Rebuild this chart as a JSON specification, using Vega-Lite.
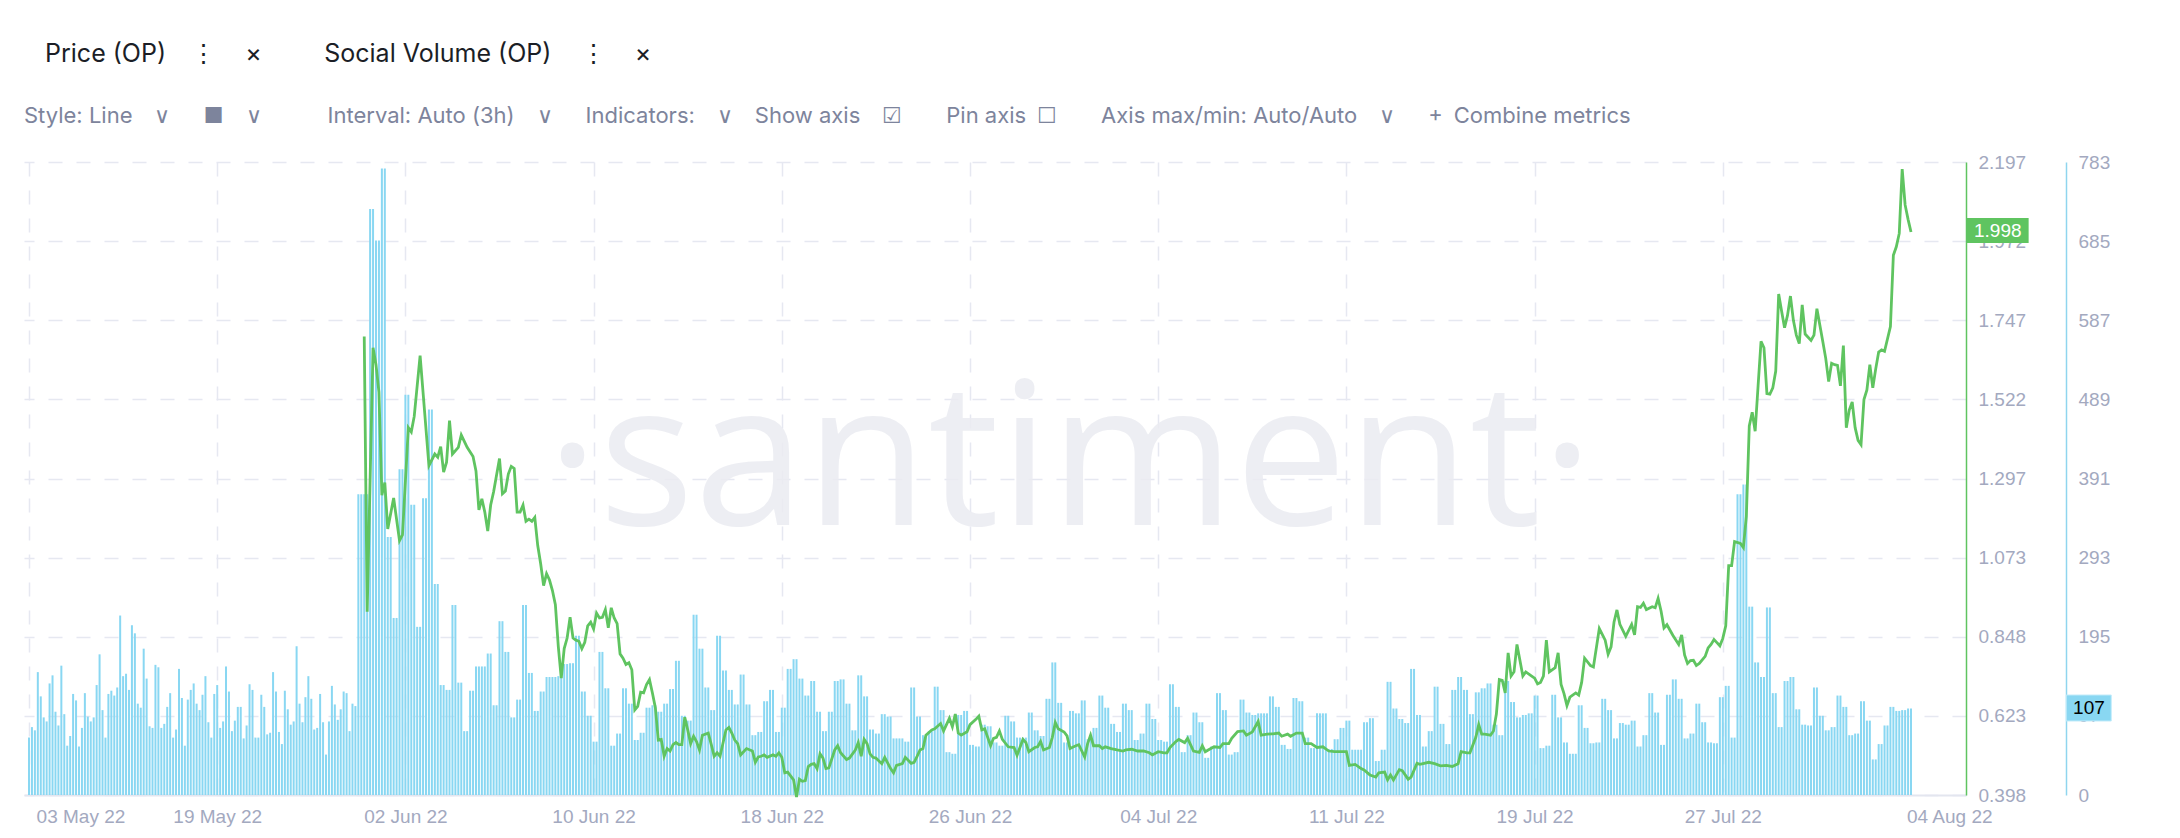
{
  "$schema": "https://vega.github.io/schema/vega-lite/v6.json",
  "width": 1942,
  "height": 633,
  "autosize": {"type": "none"},
  "padding": {"left": 24, "top": 162, "right": 214, "bottom": 43},
  "background": "#ffffff",
  "title": {
    "text": "\u200b\u2002\u2005\u200aPrice (OP)\u2003⋮\u2003\u2006×\u2003\u2003\u2002Social Volume (OP)\u2003\u2006⋮\u2003\u2006×",
    "subtitle": "Style: Line\u2003∨\u2003\u2002■\u2003∨\u2003\u2003\u2003Interval: Auto (3h)\u2003∨\u2003\u2002Indicators:\u2003∨\u2003Show axis\u2003☑\u2003\u2003Pin axis\u2002☐\u2003\u2003Axis max/min: Auto/Auto\u2003∨\u2003\u2002+\u2002Combine metrics",
    "anchor": "start",
    "frame": "group",
    "orient": "top",
    "font": "Inter",
    "fontSize": 25,
    "fontWeight": 400,
    "color": "#1b1e26",
    "subtitleFont": "Inter",
    "subtitleFontSize": 22,
    "subtitleColor": "#7d849c",
    "offset": 26,
    "subtitlePadding": 39
  },
  "config": {
    "view": {"stroke": null},
    "axis": {"labelFont": "Liberation Sans", "labelFontSize": 19, "labelColor": "#a3a9bf", "ticks": false, "labelFlush": false, "labelOverlap": false}
  },
  "datasets": {
    "vol": [
{"i":0,"v":71},{"i":1,"v":84},{"i":2,"v":80},{"i":3,"v":152},{"i":4,"v":122},{"i":5,"v":96},{"i":6,"v":91},{"i":7,"v":138},{"i":8,"v":148},{"i":9,"v":103},
{"i":10,"v":86},{"i":11,"v":160},{"i":12,"v":100},{"i":13,"v":61},{"i":14,"v":73},{"i":15,"v":125},{"i":16,"v":117},{"i":17,"v":60},{"i":18,"v":83},{"i":19,"v":126},
{"i":20,"v":97},{"i":21,"v":91},{"i":22,"v":96},{"i":23,"v":136},{"i":24,"v":174},{"i":25,"v":105},{"i":26,"v":71},{"i":27,"v":125},{"i":28,"v":129},{"i":29,"v":123},
{"i":30,"v":133},{"i":31,"v":222},{"i":32,"v":147},{"i":33,"v":150},{"i":34,"v":130},{"i":35,"v":210},{"i":36,"v":200},{"i":37,"v":113},{"i":38,"v":108},{"i":39,"v":181},
{"i":40,"v":144},{"i":41,"v":85},{"i":42,"v":83},{"i":43,"v":161},{"i":44,"v":158},{"i":45,"v":83},{"i":46,"v":88},{"i":47,"v":109},{"i":48,"v":126},{"i":49,"v":71},
{"i":50,"v":81},{"i":51,"v":156},{"i":52,"v":120},{"i":53,"v":61},{"i":54,"v":118},{"i":55,"v":130},{"i":56,"v":138},{"i":57,"v":113},{"i":58,"v":105},{"i":59,"v":124},
{"i":60,"v":147},{"i":61,"v":90},{"i":62,"v":71},{"i":63,"v":125},{"i":64,"v":136},{"i":65,"v":83},{"i":66,"v":91},{"i":67,"v":159},{"i":68,"v":128},{"i":69,"v":79},
{"i":70,"v":92},{"i":71,"v":109},{"i":72,"v":109},{"i":73,"v":70},{"i":74,"v":86},{"i":75,"v":137},{"i":76,"v":130},{"i":77,"v":71},{"i":78,"v":71},{"i":79,"v":124},
{"i":80,"v":109},{"i":81,"v":75},{"i":82,"v":77},{"i":83,"v":152},{"i":84,"v":128},{"i":85,"v":78},{"i":86,"v":63},{"i":87,"v":129},{"i":88,"v":106},{"i":89,"v":87},
{"i":90,"v":91},{"i":91,"v":184},{"i":92,"v":113},{"i":93,"v":90},{"i":94,"v":121},{"i":95,"v":147},{"i":96,"v":119},{"i":97,"v":81},{"i":98,"v":83},{"i":99,"v":125},
{"i":100,"v":90},{"i":101,"v":50},{"i":102,"v":91},{"i":103,"v":135},{"i":104,"v":112},{"i":105,"v":93},{"i":106,"v":106},{"i":107,"v":128},{"i":108,"v":126},{"i":109,"v":79},
{"i":110,"v":113},{"i":111,"v":110},{"i":112,"v":372},{"i":113,"v":372},{"i":114,"v":372},{"i":115,"v":372},{"i":116,"v":725},{"i":117,"v":725},{"i":118,"v":686},{"i":119,"v":686},
{"i":120,"v":775},{"i":121,"v":775},{"i":122,"v":319},{"i":123,"v":319},{"i":124,"v":219},{"i":125,"v":219},{"i":126,"v":403},{"i":127,"v":403},{"i":128,"v":495},{"i":129,"v":495},
{"i":130,"v":359},{"i":131,"v":359},{"i":132,"v":208},{"i":133,"v":208},{"i":134,"v":367},{"i":135,"v":367},{"i":136,"v":477},{"i":137,"v":477},{"i":138,"v":261},{"i":139,"v":261},
{"i":140,"v":136},{"i":141,"v":136},{"i":142,"v":130},{"i":143,"v":130},{"i":144,"v":235},{"i":145,"v":235},{"i":146,"v":139},{"i":147,"v":139},{"i":148,"v":79},{"i":149,"v":79},
{"i":150,"v":129},{"i":151,"v":129},{"i":152,"v":159},{"i":153,"v":159},{"i":154,"v":159},{"i":155,"v":159},{"i":156,"v":175},{"i":157,"v":175},{"i":158,"v":111},{"i":159,"v":111},
{"i":160,"v":215},{"i":161,"v":215},{"i":162,"v":177},{"i":163,"v":177},{"i":164,"v":96},{"i":165,"v":96},{"i":166,"v":118},{"i":167,"v":118},{"i":168,"v":235},{"i":169,"v":235},
{"i":170,"v":151},{"i":171,"v":151},{"i":172,"v":104},{"i":173,"v":104},{"i":174,"v":128},{"i":175,"v":128},{"i":176,"v":146},{"i":177,"v":146},{"i":178,"v":146},{"i":179,"v":146},
{"i":180,"v":147},{"i":181,"v":147},{"i":182,"v":162},{"i":183,"v":162},{"i":184,"v":163},{"i":185,"v":163},{"i":186,"v":197},{"i":187,"v":197},{"i":188,"v":128},{"i":189,"v":128},
{"i":190,"v":98},{"i":191,"v":98},{"i":192,"v":66},{"i":193,"v":66},{"i":194,"v":177},{"i":195,"v":177},{"i":196,"v":132},{"i":197,"v":132},{"i":198,"v":61},{"i":199,"v":61},
{"i":200,"v":76},{"i":201,"v":76},{"i":202,"v":132},{"i":203,"v":132},{"i":204,"v":113},{"i":205,"v":113},{"i":206,"v":68},{"i":207,"v":68},{"i":208,"v":77},{"i":209,"v":77},
{"i":210,"v":108},{"i":211,"v":108},{"i":212,"v":111},{"i":213,"v":111},{"i":214,"v":103},{"i":215,"v":103},{"i":216,"v":113},{"i":217,"v":113},{"i":218,"v":131},{"i":219,"v":131},
{"i":220,"v":166},{"i":221,"v":166},{"i":222,"v":98},{"i":223,"v":98},{"i":224,"v":92},{"i":225,"v":92},{"i":226,"v":223},{"i":227,"v":223},{"i":228,"v":181},{"i":229,"v":181},
{"i":230,"v":133},{"i":231,"v":133},{"i":232,"v":105},{"i":233,"v":105},{"i":234,"v":197},{"i":235,"v":197},{"i":236,"v":154},{"i":237,"v":154},{"i":238,"v":130},{"i":239,"v":130},
{"i":240,"v":112},{"i":241,"v":112},{"i":242,"v":149},{"i":243,"v":149},{"i":244,"v":112},{"i":245,"v":112},{"i":246,"v":74},{"i":247,"v":74},{"i":248,"v":78},{"i":249,"v":78},
{"i":250,"v":116},{"i":251,"v":116},{"i":252,"v":130},{"i":253,"v":130},{"i":254,"v":78},{"i":255,"v":78},{"i":256,"v":108},{"i":257,"v":108},{"i":258,"v":156},{"i":259,"v":156},
{"i":260,"v":168},{"i":261,"v":168},{"i":262,"v":144},{"i":263,"v":144},{"i":264,"v":123},{"i":265,"v":123},{"i":266,"v":141},{"i":267,"v":141},{"i":268,"v":103},{"i":269,"v":103},
{"i":270,"v":79},{"i":271,"v":79},{"i":272,"v":103},{"i":273,"v":103},{"i":274,"v":141},{"i":275,"v":141},{"i":276,"v":143},{"i":277,"v":143},{"i":278,"v":113},{"i":279,"v":113},
{"i":280,"v":80},{"i":281,"v":80},{"i":282,"v":148},{"i":283,"v":148},{"i":284,"v":122},{"i":285,"v":122},{"i":286,"v":81},{"i":287,"v":81},{"i":288,"v":76},{"i":289,"v":76},
{"i":290,"v":100},{"i":291,"v":100},{"i":292,"v":97},{"i":293,"v":97},{"i":294,"v":70},{"i":295,"v":70},{"i":296,"v":70},{"i":297,"v":70},{"i":298,"v":66},{"i":299,"v":66},
{"i":300,"v":133},{"i":301,"v":133},{"i":302,"v":97},{"i":303,"v":97},{"i":304,"v":74},{"i":305,"v":74},{"i":306,"v":79},{"i":307,"v":79},{"i":308,"v":134},{"i":309,"v":134},
{"i":310,"v":105},{"i":311,"v":105},{"i":312,"v":53},{"i":313,"v":53},{"i":314,"v":51},{"i":315,"v":51},{"i":316,"v":99},{"i":317,"v":99},{"i":318,"v":104},{"i":319,"v":104},
{"i":320,"v":62},{"i":321,"v":62},{"i":322,"v":60},{"i":323,"v":60},{"i":324,"v":87},{"i":325,"v":87},{"i":326,"v":85},{"i":327,"v":85},{"i":328,"v":65},{"i":329,"v":65},
{"i":330,"v":61},{"i":331,"v":61},{"i":332,"v":98},{"i":333,"v":98},{"i":334,"v":91},{"i":335,"v":91},{"i":336,"v":71},{"i":337,"v":71},{"i":338,"v":71},{"i":339,"v":71},
{"i":340,"v":102},{"i":341,"v":102},{"i":342,"v":80},{"i":343,"v":80},{"i":344,"v":73},{"i":345,"v":73},{"i":346,"v":119},{"i":347,"v":119},{"i":348,"v":164},{"i":349,"v":164},
{"i":350,"v":114},{"i":351,"v":114},{"i":352,"v":65},{"i":353,"v":65},{"i":354,"v":104},{"i":355,"v":104},{"i":356,"v":101},{"i":357,"v":101},{"i":358,"v":117},{"i":359,"v":117},
{"i":360,"v":69},{"i":361,"v":69},{"i":362,"v":83},{"i":363,"v":83},{"i":364,"v":123},{"i":365,"v":123},{"i":366,"v":108},{"i":367,"v":108},{"i":368,"v":88},{"i":369,"v":88},
{"i":370,"v":78},{"i":371,"v":78},{"i":372,"v":113},{"i":373,"v":113},{"i":374,"v":105},{"i":375,"v":105},{"i":376,"v":68},{"i":377,"v":68},{"i":378,"v":76},{"i":379,"v":76},
{"i":380,"v":113},{"i":381,"v":113},{"i":382,"v":94},{"i":383,"v":94},{"i":384,"v":68},{"i":385,"v":68},{"i":386,"v":66},{"i":387,"v":66},{"i":388,"v":137},{"i":389,"v":137},
{"i":390,"v":109},{"i":391,"v":109},{"i":392,"v":53},{"i":393,"v":53},{"i":394,"v":74},{"i":395,"v":74},{"i":396,"v":102},{"i":397,"v":102},{"i":398,"v":90},{"i":399,"v":90},
{"i":400,"v":46},{"i":401,"v":46},{"i":402,"v":60},{"i":403,"v":60},{"i":404,"v":126},{"i":405,"v":126},{"i":406,"v":105},{"i":407,"v":105},{"i":408,"v":50},{"i":409,"v":50},
{"i":410,"v":53},{"i":411,"v":53},{"i":412,"v":118},{"i":413,"v":118},{"i":414,"v":102},{"i":415,"v":102},{"i":416,"v":99},{"i":417,"v":99},{"i":418,"v":101},{"i":419,"v":101},
{"i":420,"v":101},{"i":421,"v":101},{"i":422,"v":122},{"i":423,"v":122},{"i":424,"v":109},{"i":425,"v":109},{"i":426,"v":62},{"i":427,"v":62},{"i":428,"v":57},{"i":429,"v":57},
{"i":430,"v":120},{"i":431,"v":120},{"i":432,"v":116},{"i":433,"v":116},{"i":434,"v":71},{"i":435,"v":71},{"i":436,"v":58},{"i":437,"v":58},{"i":438,"v":101},{"i":439,"v":101},
{"i":440,"v":101},{"i":441,"v":101},{"i":442,"v":57},{"i":443,"v":57},{"i":444,"v":69},{"i":445,"v":69},{"i":446,"v":83},{"i":447,"v":83},{"i":448,"v":92},{"i":449,"v":92},
{"i":450,"v":56},{"i":451,"v":56},{"i":452,"v":56},{"i":453,"v":56},{"i":454,"v":90},{"i":455,"v":90},{"i":456,"v":95},{"i":457,"v":95},{"i":458,"v":42},{"i":459,"v":42},
{"i":460,"v":56},{"i":461,"v":56},{"i":462,"v":140},{"i":463,"v":140},{"i":464,"v":107},{"i":465,"v":107},{"i":466,"v":94},{"i":467,"v":94},{"i":468,"v":89},{"i":469,"v":89},
{"i":470,"v":156},{"i":471,"v":156},{"i":472,"v":99},{"i":473,"v":99},{"i":474,"v":60},{"i":475,"v":60},{"i":476,"v":79},{"i":477,"v":79},{"i":478,"v":134},{"i":479,"v":134},
{"i":480,"v":88},{"i":481,"v":88},{"i":482,"v":63},{"i":483,"v":63},{"i":484,"v":130},{"i":485,"v":130},{"i":486,"v":146},{"i":487,"v":146},{"i":488,"v":130},{"i":489,"v":130},
{"i":490,"v":100},{"i":491,"v":100},{"i":492,"v":127},{"i":493,"v":127},{"i":494,"v":132},{"i":495,"v":132},{"i":496,"v":138},{"i":497,"v":138},{"i":498,"v":87},{"i":499,"v":87},
{"i":500,"v":74},{"i":501,"v":74},{"i":502,"v":141},{"i":503,"v":141},{"i":504,"v":115},{"i":505,"v":115},{"i":506,"v":96},{"i":507,"v":96},{"i":508,"v":99},{"i":509,"v":99},
{"i":510,"v":101},{"i":511,"v":101},{"i":512,"v":123},{"i":513,"v":123},{"i":514,"v":58},{"i":515,"v":58},{"i":516,"v":61},{"i":517,"v":61},{"i":518,"v":124},{"i":519,"v":124},
{"i":520,"v":96},{"i":521,"v":96},{"i":522,"v":65},{"i":523,"v":65},{"i":524,"v":51},{"i":525,"v":51},{"i":526,"v":51},{"i":527,"v":111},{"i":528,"v":111},{"i":529,"v":83},
{"i":530,"v":83},{"i":531,"v":64},{"i":532,"v":64},{"i":533,"v":65},{"i":534,"v":65},{"i":535,"v":119},{"i":536,"v":119},{"i":537,"v":105},{"i":538,"v":105},{"i":539,"v":70},
{"i":540,"v":70},{"i":541,"v":89},{"i":542,"v":89},{"i":543,"v":87},{"i":544,"v":87},{"i":545,"v":92},{"i":546,"v":92},{"i":547,"v":60},{"i":548,"v":60},{"i":549,"v":74},
{"i":550,"v":74},{"i":551,"v":126},{"i":552,"v":126},{"i":553,"v":102},{"i":554,"v":102},{"i":555,"v":62},{"i":556,"v":62},{"i":557,"v":124},{"i":558,"v":124},{"i":559,"v":143},
{"i":560,"v":143},{"i":561,"v":119},{"i":562,"v":119},{"i":563,"v":70},{"i":564,"v":70},{"i":565,"v":76},{"i":566,"v":76},{"i":567,"v":113},{"i":568,"v":113},{"i":569,"v":90},
{"i":570,"v":90},{"i":571,"v":65},{"i":572,"v":65},{"i":573,"v":64},{"i":574,"v":64},{"i":575,"v":121},{"i":576,"v":121},{"i":577,"v":135},{"i":578,"v":135},{"i":579,"v":71},
{"i":580,"v":71},{"i":581,"v":372},{"i":582,"v":372},{"i":583,"v":384},{"i":584,"v":384},{"i":585,"v":233},{"i":586,"v":233},{"i":587,"v":164},{"i":588,"v":164},{"i":589,"v":146},
{"i":590,"v":146},{"i":591,"v":232},{"i":592,"v":232},{"i":593,"v":126},{"i":594,"v":126},{"i":595,"v":84},{"i":596,"v":84},{"i":597,"v":141},{"i":598,"v":141},{"i":599,"v":146},
{"i":600,"v":146},{"i":601,"v":106},{"i":602,"v":106},{"i":603,"v":87},{"i":604,"v":87},{"i":605,"v":86},{"i":606,"v":86},{"i":607,"v":133},{"i":608,"v":133},{"i":609,"v":98},
{"i":610,"v":98},{"i":611,"v":80},{"i":612,"v":80},{"i":613,"v":84},{"i":614,"v":84},{"i":615,"v":123},{"i":616,"v":123},{"i":617,"v":109},{"i":618,"v":109},{"i":619,"v":74},
{"i":620,"v":74},{"i":621,"v":76},{"i":622,"v":76},{"i":623,"v":116},{"i":624,"v":116},{"i":625,"v":92},{"i":626,"v":92},{"i":627,"v":44},{"i":628,"v":44},{"i":629,"v":63},
{"i":630,"v":63},{"i":631,"v":86},{"i":632,"v":86},{"i":633,"v":109},{"i":634,"v":109},{"i":635,"v":104},{"i":636,"v":104},{"i":637,"v":105},{"i":638,"v":105},{"i":639,"v":107},
{"i":640,"v":107}
    ],
    "price": [
{"i":114,"p":1.701},{"i":115,"p":0.919},{"i":117,"p":1.669},{"i":118,"p":1.621},{"i":119,"p":1.543},{"i":120,"p":1.250},{"i":121,"p":1.286},{"i":122,"p":1.154},{"i":124,"p":1.242},{"i":126,"p":1.121},
{"i":127,"p":1.137},{"i":129,"p":1.442},{"i":130,"p":1.430},{"i":131,"p":1.474},{"i":133,"p":1.647},{"i":136,"p":1.334},{"i":138,"p":1.367},{"i":139,"p":1.358},{"i":140,"p":1.388},{"i":141,"p":1.316},
{"i":142,"p":1.344},{"i":143,"p":1.462},{"i":144,"p":1.367},{"i":146,"p":1.386},{"i":147,"p":1.421},{"i":149,"p":1.386},{"i":151,"p":1.360},{"i":152,"p":1.319},{"i":153,"p":1.208},{"i":154,"p":1.240},
{"i":155,"p":1.202},{"i":156,"p":1.148},{"i":157,"p":1.222},{"i":158,"p":1.260},{"i":160,"p":1.354},{"i":161,"p":1.254},{"i":162,"p":1.262},{"i":163,"p":1.310},{"i":164,"p":1.332},{"i":165,"p":1.326},
{"i":166,"p":1.202},{"i":167,"p":1.202},{"i":168,"p":1.222},{"i":169,"p":1.176},{"i":170,"p":1.182},{"i":171,"p":1.176},{"i":172,"p":1.187},{"i":173,"p":1.107},{"i":174,"p":1.055},{"i":175,"p":0.993},
{"i":176,"p":1.027},{"i":177,"p":1.009},{"i":178,"p":0.979},{"i":179,"p":0.939},{"i":180,"p":0.820},{"i":181,"p":0.730},{"i":182,"p":0.814},{"i":183,"p":0.844},{"i":184,"p":0.903},{"i":185,"p":0.844},
{"i":186,"p":0.838},{"i":187,"p":0.835},{"i":188,"p":0.814},{"i":189,"p":0.832},{"i":190,"p":0.879},{"i":191,"p":0.889},{"i":192,"p":0.870},{"i":193,"p":0.915},{"i":194,"p":0.901},{"i":195,"p":0.903},
{"i":196,"p":0.925},{"i":197,"p":0.873},{"i":198,"p":0.930},{"i":199,"p":0.901},{"i":200,"p":0.885},{"i":201,"p":0.799},{"i":202,"p":0.787},{"i":203,"p":0.769},{"i":204,"p":0.774},{"i":205,"p":0.754},
{"i":206,"p":0.640},{"i":207,"p":0.650},{"i":208,"p":0.690},{"i":209,"p":0.688},{"i":210,"p":0.712},{"i":211,"p":0.726},{"i":212,"p":0.688},{"i":213,"p":0.646},{"i":214,"p":0.554},{"i":215,"p":0.556},
{"i":216,"p":0.508},{"i":217,"p":0.530},{"i":218,"p":0.523},{"i":219,"p":0.541},{"i":220,"p":0.547},{"i":221,"p":0.541},{"i":222,"p":0.541},{"i":223,"p":0.619},{"i":224,"p":0.583},{"i":225,"p":0.544},
{"i":226,"p":0.565},{"i":227,"p":0.550},{"i":228,"p":0.526},{"i":229,"p":0.568},{"i":231,"p":0.574},{"i":232,"p":0.542},{"i":233,"p":0.508},{"i":234,"p":0.518},{"i":235,"p":0.508},{"i":237,"p":0.583},
{"i":238,"p":0.590},{"i":239,"p":0.574},{"i":240,"p":0.554},{"i":241,"p":0.544},{"i":242,"p":0.512},{"i":243,"p":0.521},{"i":244,"p":0.530},{"i":246,"p":0.523},{"i":247,"p":0.491},{"i":248,"p":0.506},
{"i":249,"p":0.508},{"i":250,"p":0.512},{"i":251,"p":0.505},{"i":253,"p":0.512},{"i":254,"p":0.508},{"i":255,"p":0.518},{"i":256,"p":0.505},{"i":257,"p":0.461},{"i":258,"p":0.463},{"i":260,"p":0.441},
{"i":261,"p":0.392},{"i":262,"p":0.443},{"i":263,"p":0.437},{"i":264,"p":0.439},{"i":265,"p":0.479},{"i":266,"p":0.485},{"i":267,"p":0.487},{"i":268,"p":0.473},{"i":269,"p":0.515},{"i":270,"p":0.503},
{"i":271,"p":0.473},{"i":272,"p":0.475},{"i":274,"p":0.526},{"i":275,"p":0.538},{"i":276,"p":0.518},{"i":278,"p":0.499},{"i":279,"p":0.503},{"i":281,"p":0.526},{"i":282,"p":0.547},{"i":283,"p":0.508},
{"i":284,"p":0.556},{"i":285,"p":0.544},{"i":286,"p":0.515},{"i":287,"p":0.505},{"i":288,"p":0.503},{"i":290,"p":0.487},{"i":291,"p":0.505},{"i":293,"p":0.473},{"i":294,"p":0.461},{"i":295,"p":0.482},
{"i":297,"p":0.487},{"i":298,"p":0.505},{"i":300,"p":0.488},{"i":301,"p":0.491},{"i":302,"p":0.508},{"i":303,"p":0.526},{"i":304,"p":0.530},{"i":305,"p":0.568},{"i":307,"p":0.583},{"i":308,"p":0.586},
{"i":310,"p":0.601},{"i":311,"p":0.580},{"i":313,"p":0.616},{"i":314,"p":0.592},{"i":315,"p":0.628},{"i":316,"p":0.574},{"i":317,"p":0.568},{"i":319,"p":0.578},{"i":320,"p":0.598},{"i":322,"p":0.613},
{"i":323,"p":0.622},{"i":324,"p":0.583},{"i":325,"p":0.586},{"i":327,"p":0.538},{"i":328,"p":0.559},{"i":329,"p":0.562},{"i":330,"p":0.580},{"i":331,"p":0.556},{"i":333,"p":0.535},{"i":335,"p":0.533},
{"i":336,"p":0.511},{"i":338,"p":0.556},{"i":339,"p":0.547},{"i":340,"p":0.521},{"i":342,"p":0.533},{"i":343,"p":0.535},{"i":344,"p":0.550},{"i":345,"p":0.526},{"i":347,"p":0.533},{"i":348,"p":0.562},
{"i":349,"p":0.604},{"i":350,"p":0.586},{"i":352,"p":0.577},{"i":353,"p":0.566},{"i":354,"p":0.530},{"i":356,"p":0.538},{"i":357,"p":0.541},{"i":359,"p":0.506},{"i":360,"p":0.544},{"i":361,"p":0.568},
{"i":362,"p":0.538},{"i":364,"p":0.538},{"i":365,"p":0.530},{"i":366,"p":0.535},{"i":368,"p":0.530},{"i":370,"p":0.526},{"i":372,"p":0.523},{"i":373,"p":0.526},{"i":375,"p":0.528},{"i":377,"p":0.523},
{"i":379,"p":0.523},{"i":381,"p":0.518},{"i":382,"p":0.512},{"i":384,"p":0.521},{"i":386,"p":0.518},{"i":387,"p":0.518},{"i":388,"p":0.533},{"i":390,"p":0.550},{"i":391,"p":0.556},{"i":393,"p":0.547},
{"i":394,"p":0.559},{"i":396,"p":0.523},{"i":398,"p":0.519},{"i":399,"p":0.538},{"i":400,"p":0.521},{"i":401,"p":0.526},{"i":403,"p":0.535},{"i":405,"p":0.533},{"i":406,"p":0.544},{"i":408,"p":0.544},
{"i":409,"p":0.559},{"i":411,"p":0.578},{"i":413,"p":0.580},{"i":414,"p":0.568},{"i":416,"p":0.577},{"i":418,"p":0.607},{"i":419,"p":0.568},{"i":421,"p":0.571},{"i":423,"p":0.572},{"i":425,"p":0.574},
{"i":426,"p":0.565},{"i":428,"p":0.571},{"i":429,"p":0.565},{"i":431,"p":0.574},{"i":433,"p":0.574},{"i":434,"p":0.544},{"i":436,"p":0.544},{"i":438,"p":0.533},{"i":440,"p":0.535},{"i":442,"p":0.523},
{"i":444,"p":0.521},{"i":446,"p":0.521},{"i":448,"p":0.521},{"i":449,"p":0.482},{"i":451,"p":0.485},{"i":453,"p":0.473},{"i":454,"p":0.469},{"i":456,"p":0.455},{"i":458,"p":0.449},{"i":459,"p":0.461},
{"i":461,"p":0.463},{"i":462,"p":0.441},{"i":463,"p":0.455},{"i":464,"p":0.441},{"i":466,"p":0.470},{"i":467,"p":0.467},{"i":469,"p":0.443},{"i":470,"p":0.449},{"i":472,"p":0.488},{"i":473,"p":0.485},
{"i":476,"p":0.491},{"i":478,"p":0.487},{"i":480,"p":0.481},{"i":482,"p":0.482},{"i":484,"p":0.479},{"i":486,"p":0.487},{"i":487,"p":0.521},{"i":489,"p":0.518},{"i":490,"p":0.518},{"i":492,"p":0.562},
{"i":493,"p":0.598},{"i":494,"p":0.571},{"i":495,"p":0.571},{"i":497,"p":0.568},{"i":498,"p":0.580},{"i":499,"p":0.628},{"i":500,"p":0.726},{"i":501,"p":0.724},{"i":502,"p":0.688},{"i":503,"p":0.802},
{"i":504,"p":0.736},{"i":505,"p":0.748},{"i":506,"p":0.826},{"i":508,"p":0.736},{"i":509,"p":0.748},{"i":511,"p":0.736},{"i":512,"p":0.730},{"i":513,"p":0.714},{"i":514,"p":0.718},{"i":515,"p":0.736},
{"i":516,"p":0.838},{"i":517,"p":0.748},{"i":519,"p":0.760},{"i":520,"p":0.802},{"i":521,"p":0.712},{"i":522,"p":0.686},{"i":523,"p":0.652},{"i":524,"p":0.676},{"i":526,"p":0.688},{"i":527,"p":0.682},
{"i":528,"p":0.718},{"i":529,"p":0.787},{"i":531,"p":0.766},{"i":532,"p":0.762},{"i":534,"p":0.871},{"i":536,"p":0.838},{"i":537,"p":0.798},{"i":538,"p":0.819},{"i":539,"p":0.889},{"i":540,"p":0.924},
{"i":541,"p":0.883},{"i":543,"p":0.849},{"i":545,"p":0.883},{"i":546,"p":0.853},{"i":547,"p":0.933},{"i":548,"p":0.931},{"i":549,"p":0.943},{"i":550,"p":0.925},{"i":552,"p":0.933},{"i":553,"p":0.930},
{"i":554,"p":0.957},{"i":555,"p":0.921},{"i":556,"p":0.873},{"i":557,"p":0.882},{"i":559,"p":0.852},{"i":561,"p":0.826},{"i":562,"p":0.853},{"i":563,"p":0.796},{"i":564,"p":0.772},{"i":565,"p":0.780},
{"i":566,"p":0.781},{"i":567,"p":0.766},{"i":568,"p":0.772},{"i":570,"p":0.792},{"i":571,"p":0.816},{"i":572,"p":0.826},{"i":573,"p":0.840},{"i":574,"p":0.831},{"i":575,"p":0.822},{"i":576,"p":0.843},
{"i":577,"p":0.879},{"i":578,"p":1.050},{"i":579,"p":1.050},{"i":580,"p":1.118},{"i":582,"p":1.113},{"i":583,"p":1.101},{"i":584,"p":1.190},{"i":585,"p":1.447},{"i":586,"p":1.486},{"i":587,"p":1.432},
{"i":588,"p":1.561},{"i":589,"p":1.687},{"i":590,"p":1.669},{"i":591,"p":1.539},{"i":592,"p":1.537},{"i":593,"p":1.555},{"i":594,"p":1.603},{"i":595,"p":1.822},{"i":596,"p":1.773},{"i":597,"p":1.726},
{"i":598,"p":1.761},{"i":599,"p":1.816},{"i":600,"p":1.747},{"i":601,"p":1.705},{"i":602,"p":1.681},{"i":603,"p":1.791},{"i":604,"p":1.708},{"i":605,"p":1.699},{"i":606,"p":1.690},{"i":607,"p":1.705},
{"i":608,"p":1.780},{"i":610,"p":1.687},{"i":611,"p":1.639},{"i":612,"p":1.573},{"i":613,"p":1.625},{"i":614,"p":1.621},{"i":615,"p":1.619},{"i":616,"p":1.561},{"i":617,"p":1.675},{"i":618,"p":1.442},
{"i":619,"p":1.492},{"i":620,"p":1.515},{"i":621,"p":1.442},{"i":622,"p":1.406},{"i":623,"p":1.394},{"i":624,"p":1.522},{"i":625,"p":1.549},{"i":626,"p":1.621},{"i":627,"p":1.555},{"i":628,"p":1.609},
{"i":629,"p":1.657},{"i":630,"p":1.663},{"i":631,"p":1.659},{"i":633,"p":1.729},{"i":634,"p":1.932},{"i":635,"p":1.956},{"i":636,"p":1.994},{"i":637,"p":2.177},{"i":638,"p":2.075},{"i":639,"p":2.034},
{"i":640,"p":1.998}
    ]
  },
  "layer": [
    {
      "layer": [
        {
          "data": {"name": "vol"},
          "mark": {"type": "bar", "orient": "vertical", "size": 2, "color": "#89d7f2"},
          "encoding": {
            "x": {
              "field": "i", "type": "quantitative",
              "scale": {"domain": [0, 657], "nice": false, "zero": false},
              "axis": {
                "values": [0, 17.5, 64, 128, 192, 256, 320, 384, 448, 512, 576, 653],
                "labelExpr": "datum.value == 17.5 ? '03 May 22' : datum.value == 64 ? '19 May 22' : datum.value == 128 ? '02 Jun 22' : datum.value == 192 ? '10 Jun 22' : datum.value == 256 ? '18 Jun 22' : datum.value == 320 ? '26 Jun 22' : datum.value == 384 ? '04 Jul 22' : datum.value == 448 ? '11 Jul 22' : datum.value == 512 ? '19 Jul 22' : datum.value == 576 ? '27 Jul 22' : datum.value == 653 ? '04 Aug 22' : ''",
                "grid": true,
                "gridDash": [14, 14],
                "gridColor": "#e6e8f1",
                "gridWidth": 1.5,
                "gridOpacity": {"condition": {"test": "datum.value == 17.5 || datum.value == 653", "value": 0}, "value": 1},
                "domain": true,
                "domainColor": "#e3e6ef",
                "domainWidth": 2,
                "labelPadding": 12,
                "title": null
              }
            },
            "y": {
              "field": "v", "type": "quantitative",
              "scale": {"domain": [0, 783], "nice": false, "zero": true},
              "axis": {
                "orient": "right",
                "offset": 100,
                "values": [0, 97.875, 195.75, 293.625, 391.5, 489.375, 587.25, 685.125, 783],
                "labelExpr": "floor(datum.value)",
                "grid": false,
                "domainColor": "#8fd5ee",
                "domainWidth": 1.5,
                "labelPadding": 12,
                "labelBaseline": "middle",
                "title": null
              }
            }
          }
        },
        {
          "data": {"values": [{"label": "·santiment·"}]},
          "mark": {"type": "text", "font": "Open Sans", "fontSize": 200, "color": "#ebecf2", "align": "center", "baseline": "alphabetic", "opacity": 0.85},
          "encoding": {
            "x": {"datum": 354, "type": "quantitative"},
            "y": {"datum": 334, "type": "quantitative"},
            "text": {"field": "label"}
          }
        },
        {
          "data": {"values": [{"label": "107"}]},
          "mark": {"type": "rect", "color": "#89d7f2", "stroke": "#c4ecfa", "strokeWidth": 1},
          "encoding": {
            "x": {"datum": 692.8, "type": "quantitative"},
            "x2": {"datum": 708.1},
            "y": {"datum": 123.7, "type": "quantitative"},
            "y2": {"datum": 91.5}
          }
        },
        {
          "data": {"values": [{"label": "107"}]},
          "mark": {"type": "text", "font": "Liberation Sans", "fontSize": 19, "color": "#000000", "align": "center", "baseline": "middle"},
          "encoding": {
            "x": {"datum": 700.5, "type": "quantitative"},
            "y": {"datum": 107.6, "type": "quantitative"},
            "text": {"field": "label"}
          }
        }
      ]
    },
    {
      "layer": [
        {
          "data": {"name": "price"},
          "mark": {"type": "line", "color": "#5fc460", "strokeWidth": 2.8, "interpolate": "linear"},
          "encoding": {
            "x": {"field": "i", "type": "quantitative"},
            "y": {
              "field": "p", "type": "quantitative",
              "scale": {"domain": [0.398, 2.197], "nice": false, "zero": false},
              "axis": {
                "orient": "right",
                "values": [0.398, 0.62288, 0.84775, 1.07262, 1.2974, 1.52238, 1.74725, 1.97212, 2.197],
                "format": ".3f",
                "grid": true,
                "gridDash": [14, 14],
                "gridColor": "#e6e8f1",
                "gridWidth": 1.5,
                "domainColor": "#5fc460",
                "domainWidth": 1.5,
                "labelPadding": 12,
                "labelBaseline": "middle",
                "title": null
              }
            }
          }
        },
        {
          "data": {"values": [{"label": "1.998"}]},
          "mark": {"type": "rect", "color": "#5fc460"},
          "encoding": {
            "x": {"datum": 659, "type": "quantitative"},
            "x2": {"datum": 680},
            "y": {"datum": 2.038, "type": "quantitative"},
            "y2": {"datum": 1.967}
          }
        },
        {
          "data": {"values": [{"label": "1.998"}]},
          "mark": {"type": "text", "font": "Liberation Sans", "fontSize": 19, "color": "#ffffff", "align": "center", "baseline": "middle"},
          "encoding": {
            "x": {"datum": 669.5, "type": "quantitative"},
            "y": {"datum": 2.002, "type": "quantitative"},
            "text": {"field": "label"}
          }
        }
      ]
    }
  ],
  "resolve": {"scale": {"y": "independent"}}
}
